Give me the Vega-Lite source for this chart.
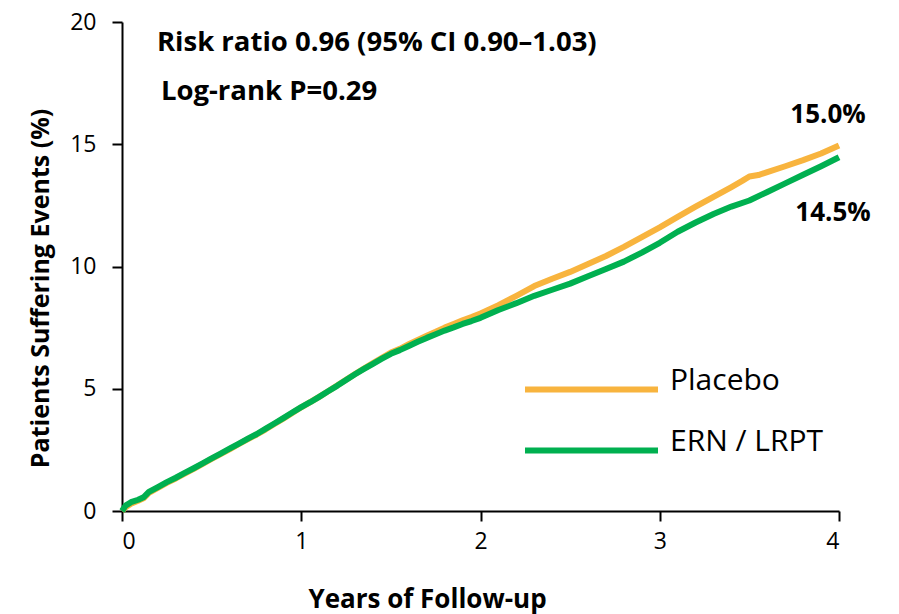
{
  "$schema": "https://vega.github.io/schema/vega-lite/v6.json",
  "width": 717,
  "height": 489,
  "autosize": {"type": "none"},
  "padding": {"left": 122, "top": 22, "right": 60, "bottom": 103},
  "background": "white",
  "config": {
    "view": {"stroke": null},
    "font": "Open Sans",
    "axis": {
      "domainColor": "#000000",
      "domainWidth": 2,
      "tickColor": "#000000",
      "tickWidth": 2,
      "tickSize": 10,
      "grid": false,
      "labelFont": "Open Sans",
      "labelFontSize": 23,
      "labelColor": "#000000",
      "titleFont": "Open Sans",
      "titleFontWeight": "bold",
      "titleFontSize": 26,
      "titleColor": "#000000"
    }
  },
  "datasets": {
    "km": [
      {"year": 0, "pct": 0, "group": "Placebo"},
      {"year": 0.02, "pct": 0.15, "group": "Placebo"},
      {"year": 0.05, "pct": 0.3, "group": "Placebo"},
      {"year": 0.09, "pct": 0.42, "group": "Placebo"},
      {"year": 0.12, "pct": 0.52, "group": "Placebo"},
      {"year": 0.15, "pct": 0.74, "group": "Placebo"},
      {"year": 0.2, "pct": 0.95, "group": "Placebo"},
      {"year": 0.25, "pct": 1.15, "group": "Placebo"},
      {"year": 0.3, "pct": 1.33, "group": "Placebo"},
      {"year": 0.35, "pct": 1.53, "group": "Placebo"},
      {"year": 0.4, "pct": 1.72, "group": "Placebo"},
      {"year": 0.45, "pct": 1.93, "group": "Placebo"},
      {"year": 0.5, "pct": 2.13, "group": "Placebo"},
      {"year": 0.55, "pct": 2.33, "group": "Placebo"},
      {"year": 0.6, "pct": 2.52, "group": "Placebo"},
      {"year": 0.65, "pct": 2.73, "group": "Placebo"},
      {"year": 0.7, "pct": 2.93, "group": "Placebo"},
      {"year": 0.75, "pct": 3.12, "group": "Placebo"},
      {"year": 0.8, "pct": 3.33, "group": "Placebo"},
      {"year": 0.85, "pct": 3.56, "group": "Placebo"},
      {"year": 0.9, "pct": 3.78, "group": "Placebo"},
      {"year": 0.95, "pct": 4.01, "group": "Placebo"},
      {"year": 1.0, "pct": 4.24, "group": "Placebo"},
      {"year": 1.05, "pct": 4.45, "group": "Placebo"},
      {"year": 1.1, "pct": 4.67, "group": "Placebo"},
      {"year": 1.15, "pct": 4.9, "group": "Placebo"},
      {"year": 1.2, "pct": 5.13, "group": "Placebo"},
      {"year": 1.25, "pct": 5.37, "group": "Placebo"},
      {"year": 1.3, "pct": 5.6, "group": "Placebo"},
      {"year": 1.35, "pct": 5.83, "group": "Placebo"},
      {"year": 1.4, "pct": 6.05, "group": "Placebo"},
      {"year": 1.45, "pct": 6.27, "group": "Placebo"},
      {"year": 1.5, "pct": 6.48, "group": "Placebo"},
      {"year": 1.55, "pct": 6.63, "group": "Placebo"},
      {"year": 1.6, "pct": 6.82, "group": "Placebo"},
      {"year": 1.65, "pct": 7.0, "group": "Placebo"},
      {"year": 1.7, "pct": 7.17, "group": "Placebo"},
      {"year": 1.75, "pct": 7.33, "group": "Placebo"},
      {"year": 1.8, "pct": 7.5, "group": "Placebo"},
      {"year": 1.85, "pct": 7.65, "group": "Placebo"},
      {"year": 1.9, "pct": 7.8, "group": "Placebo"},
      {"year": 1.95, "pct": 7.93, "group": "Placebo"},
      {"year": 2.0, "pct": 8.08, "group": "Placebo"},
      {"year": 2.1, "pct": 8.42, "group": "Placebo"},
      {"year": 2.2, "pct": 8.8, "group": "Placebo"},
      {"year": 2.3, "pct": 9.2, "group": "Placebo"},
      {"year": 2.4, "pct": 9.5, "group": "Placebo"},
      {"year": 2.5, "pct": 9.78, "group": "Placebo"},
      {"year": 2.6, "pct": 10.1, "group": "Placebo"},
      {"year": 2.7, "pct": 10.43, "group": "Placebo"},
      {"year": 2.8, "pct": 10.8, "group": "Placebo"},
      {"year": 2.9, "pct": 11.2, "group": "Placebo"},
      {"year": 3.0, "pct": 11.6, "group": "Placebo"},
      {"year": 3.1, "pct": 12.03, "group": "Placebo"},
      {"year": 3.2, "pct": 12.45, "group": "Placebo"},
      {"year": 3.3, "pct": 12.85, "group": "Placebo"},
      {"year": 3.4, "pct": 13.25, "group": "Placebo"},
      {"year": 3.46, "pct": 13.5, "group": "Placebo"},
      {"year": 3.5, "pct": 13.68, "group": "Placebo"},
      {"year": 3.55, "pct": 13.74, "group": "Placebo"},
      {"year": 3.6, "pct": 13.86, "group": "Placebo"},
      {"year": 3.7, "pct": 14.1, "group": "Placebo"},
      {"year": 3.8, "pct": 14.35, "group": "Placebo"},
      {"year": 3.9, "pct": 14.62, "group": "Placebo"},
      {"year": 4.0, "pct": 14.95, "group": "Placebo"},
      {"year": 0, "pct": 0, "group": "ERN / LRPT"},
      {"year": 0.02, "pct": 0.22, "group": "ERN / LRPT"},
      {"year": 0.05, "pct": 0.36, "group": "ERN / LRPT"},
      {"year": 0.09, "pct": 0.46, "group": "ERN / LRPT"},
      {"year": 0.12, "pct": 0.56, "group": "ERN / LRPT"},
      {"year": 0.15, "pct": 0.78, "group": "ERN / LRPT"},
      {"year": 0.2, "pct": 0.98, "group": "ERN / LRPT"},
      {"year": 0.25, "pct": 1.18, "group": "ERN / LRPT"},
      {"year": 0.3, "pct": 1.36, "group": "ERN / LRPT"},
      {"year": 0.35, "pct": 1.56, "group": "ERN / LRPT"},
      {"year": 0.4, "pct": 1.75, "group": "ERN / LRPT"},
      {"year": 0.45, "pct": 1.95, "group": "ERN / LRPT"},
      {"year": 0.5, "pct": 2.15, "group": "ERN / LRPT"},
      {"year": 0.55, "pct": 2.35, "group": "ERN / LRPT"},
      {"year": 0.6, "pct": 2.55, "group": "ERN / LRPT"},
      {"year": 0.65, "pct": 2.75, "group": "ERN / LRPT"},
      {"year": 0.7, "pct": 2.95, "group": "ERN / LRPT"},
      {"year": 0.75, "pct": 3.14, "group": "ERN / LRPT"},
      {"year": 0.8, "pct": 3.36, "group": "ERN / LRPT"},
      {"year": 0.85, "pct": 3.58, "group": "ERN / LRPT"},
      {"year": 0.9, "pct": 3.8, "group": "ERN / LRPT"},
      {"year": 0.95, "pct": 4.03, "group": "ERN / LRPT"},
      {"year": 1.0, "pct": 4.25, "group": "ERN / LRPT"},
      {"year": 1.05, "pct": 4.45, "group": "ERN / LRPT"},
      {"year": 1.1, "pct": 4.67, "group": "ERN / LRPT"},
      {"year": 1.15, "pct": 4.9, "group": "ERN / LRPT"},
      {"year": 1.2, "pct": 5.12, "group": "ERN / LRPT"},
      {"year": 1.25, "pct": 5.36, "group": "ERN / LRPT"},
      {"year": 1.3, "pct": 5.59, "group": "ERN / LRPT"},
      {"year": 1.35, "pct": 5.81, "group": "ERN / LRPT"},
      {"year": 1.4, "pct": 6.02, "group": "ERN / LRPT"},
      {"year": 1.45, "pct": 6.23, "group": "ERN / LRPT"},
      {"year": 1.5, "pct": 6.43, "group": "ERN / LRPT"},
      {"year": 1.55, "pct": 6.58, "group": "ERN / LRPT"},
      {"year": 1.6, "pct": 6.75, "group": "ERN / LRPT"},
      {"year": 1.65, "pct": 6.92, "group": "ERN / LRPT"},
      {"year": 1.7, "pct": 7.08, "group": "ERN / LRPT"},
      {"year": 1.75, "pct": 7.23, "group": "ERN / LRPT"},
      {"year": 1.8, "pct": 7.38, "group": "ERN / LRPT"},
      {"year": 1.85, "pct": 7.51, "group": "ERN / LRPT"},
      {"year": 1.9, "pct": 7.65, "group": "ERN / LRPT"},
      {"year": 1.95, "pct": 7.77, "group": "ERN / LRPT"},
      {"year": 2.0, "pct": 7.9, "group": "ERN / LRPT"},
      {"year": 2.1, "pct": 8.22, "group": "ERN / LRPT"},
      {"year": 2.2, "pct": 8.5, "group": "ERN / LRPT"},
      {"year": 2.3, "pct": 8.8, "group": "ERN / LRPT"},
      {"year": 2.4, "pct": 9.05, "group": "ERN / LRPT"},
      {"year": 2.5, "pct": 9.3, "group": "ERN / LRPT"},
      {"year": 2.6, "pct": 9.6, "group": "ERN / LRPT"},
      {"year": 2.7, "pct": 9.9, "group": "ERN / LRPT"},
      {"year": 2.8, "pct": 10.2, "group": "ERN / LRPT"},
      {"year": 2.9, "pct": 10.57, "group": "ERN / LRPT"},
      {"year": 3.0, "pct": 10.97, "group": "ERN / LRPT"},
      {"year": 3.1, "pct": 11.42, "group": "ERN / LRPT"},
      {"year": 3.2, "pct": 11.8, "group": "ERN / LRPT"},
      {"year": 3.3, "pct": 12.15, "group": "ERN / LRPT"},
      {"year": 3.4, "pct": 12.45, "group": "ERN / LRPT"},
      {"year": 3.5, "pct": 12.7, "group": "ERN / LRPT"},
      {"year": 3.6, "pct": 13.05, "group": "ERN / LRPT"},
      {"year": 3.7, "pct": 13.4, "group": "ERN / LRPT"},
      {"year": 3.8, "pct": 13.75, "group": "ERN / LRPT"},
      {"year": 3.9, "pct": 14.1, "group": "ERN / LRPT"},
      {"year": 4.0, "pct": 14.47, "group": "ERN / LRPT"}
    ],
    "ends": [
      {"group": "Placebo", "year": 4, "pct": 15.0, "label": "15.0%"},
      {"group": "ERN / LRPT", "year": 4, "pct": 14.5, "label": "14.5%"}
    ],
    "notes": [
      {"year": 0.195, "pct": 18.83, "text": "Risk ratio 0.96 (95% CI 0.90–1.03)"},
      {"year": 0.217, "pct": 16.79, "text": "Log-rank P=0.29"}
    ]
  },
  "layer": [
    {
      "data": {"name": "km"},
      "mark": {"type": "line", "strokeWidth": 6, "interpolate": "linear", "strokeJoin": "round", "strokeCap": "butt"},
      "encoding": {
        "x": {
          "field": "year", "type": "quantitative",
          "scale": {"domain": [0, 4], "nice": false, "zero": false},
          "axis": {
            "values": [0, 1, 2, 3, 4], "format": "d", "labelPadding": 9,
            "title": "Years of Follow-up",
            "titleAlign": "center", "titleAnchor": null,
            "titleX": 305, "titleY": 96, "titleBaseline": "alphabetic"
          }
        },
        "y": {
          "field": "pct", "type": "quantitative",
          "scale": {"domain": [0, 20], "nice": false},
          "axis": {
            "values": [0, 5, 10, 15, 20], "labelPadding": 16,
            "title": "Patients Suffering Events (%)", "titleFontSize": 25,
            "titleAngle": -90, "titleAlign": "center",
            "titleX": -74, "titleY": 266, "titleBaseline": "alphabetic"
          }
        },
        "color": {
          "field": "group", "type": "nominal",
          "scale": {"domain": ["Placebo", "ERN / LRPT"], "range": ["#F8B43E", "#00B050"]},
          "legend": {
            "title": null, "orient": "none", "legendX": 400, "legendY": 351,
            "symbolType": "stroke", "symbolSize": 17689, "symbolStrokeWidth": 6,
            "clipHeight": 33,
            "labelFont": "Open Sans", "labelFontSize": 30, "labelColor": "#000000",
            "labelBaseline": "alphabetic",
            "labelOffset": 9, "rowPadding": 20, "padding": 0
          }
        },
        "detail": {"field": "group"}
      }
    },
    {
      "data": {"name": "ends"},
      "transform": [{"filter": "datum.group === 'Placebo'"}],
      "mark": {"type": "text", "font": "Open Sans", "fontWeight": "bold", "fontSize": 26, "align": "center", "baseline": "alphabetic", "dx": -11, "dy": -21, "color": "#000000"},
      "encoding": {
        "x": {"field": "year", "type": "quantitative"},
        "y": {"field": "pct", "type": "quantitative"},
        "text": {"field": "label"}
      }
    },
    {
      "data": {"name": "ends"},
      "transform": [{"filter": "datum.group === 'ERN / LRPT'"}],
      "mark": {"type": "text", "font": "Open Sans", "fontWeight": "bold", "fontSize": 26, "align": "center", "baseline": "alphabetic", "dx": -6, "dy": 65, "color": "#000000"},
      "encoding": {
        "x": {"field": "year", "type": "quantitative"},
        "y": {"field": "pct", "type": "quantitative"},
        "text": {"field": "label"}
      }
    },
    {
      "data": {"name": "notes"},
      "mark": {"type": "text", "font": "Open Sans", "fontWeight": "bold", "fontSize": 27.5, "align": "left", "baseline": "alphabetic", "color": "#000000"},
      "encoding": {
        "x": {"field": "year", "type": "quantitative"},
        "y": {"field": "pct", "type": "quantitative"},
        "text": {"field": "text"}
      }
    }
  ]
}
